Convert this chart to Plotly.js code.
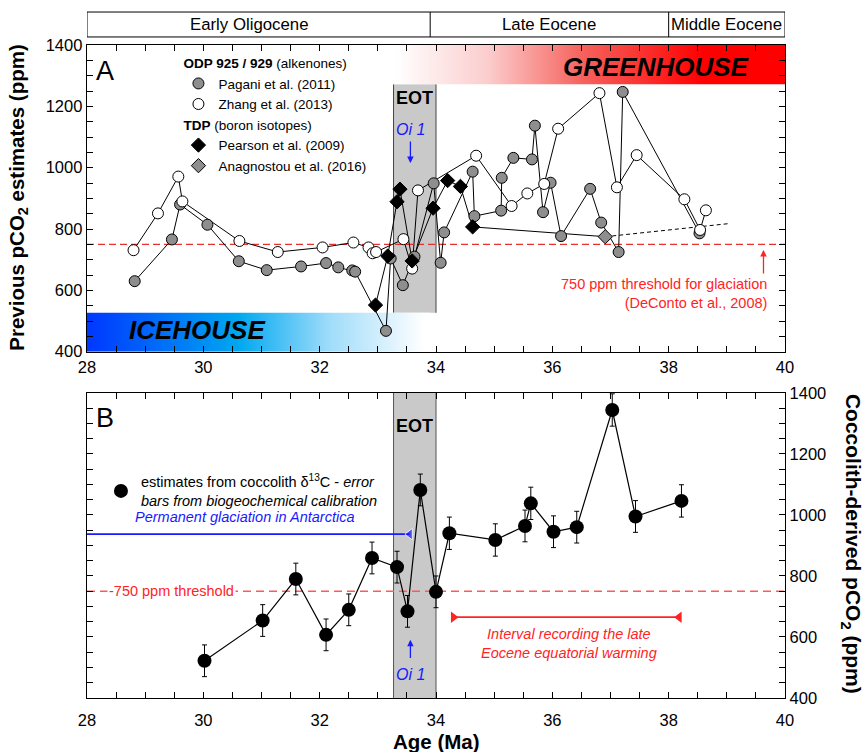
<!DOCTYPE html>
<html><head><meta charset="utf-8">
<script src="https://cdn.plot.ly/plotly-3.0.1.min.js"></script>
<style>html,body{margin:0;padding:0;background:#fff}</style>
</head><body>
<div id="chart" style="width:866px;height:752px"></div>
<script>
// ---------- Panel A : previous pCO2 estimates ----------
const paganiAge = [28.82, 29.46, 29.60, 30.07, 30.61, 31.09, 31.68, 32.11, 32.32, 32.56, 32.61, 33.14, 33.22, 33.43, 33.63, 33.96, 34.08, 34.14, 34.63, 34.66, 35.12, 35.13, 35.33, 35.65, 35.70, 35.84, 35.97, 36.15, 36.65, 36.84, 37.14, 37.21, 38.53];
const paganiPpm = [630, 766, 880, 814, 695, 666, 678, 689, 675, 665, 661, 468, 704, 617, 710, 949, 690, 789, 987, 842, 860, 967, 1032, 1027, 1137, 855, 951, 777, 931, 821, 725, 1247, 786];

const zhangAge = [28.80, 29.22, 29.57, 29.64, 30.62, 31.28, 32.05, 32.58, 32.84, 32.91, 32.97, 33.44, 33.59, 33.69, 34.69, 35.30, 35.57, 35.86, 36.10, 36.81, 37.11, 37.45, 38.27, 38.54, 38.64];
const zhangPpm = [731, 851, 971, 890, 761, 725, 740, 756, 740, 721, 725, 767, 671, 926, 1039, 875, 916, 947, 1127, 1243, 936, 1041, 897, 797, 861];

const pearsonAge = [32.96, 33.17, 33.33, 33.38, 33.59, 33.95, 34.20, 34.42, 34.63];
const pearsonPpm = [552, 712, 889, 930, 696, 868, 958, 939, 807];

const anagAge = [36.91];
const anagPpm = [775];

const tdpTrendAge = [36.91, 39.05];
const tdpTrendPpm = [775, 818];

// ---------- Panel B : coccolith-derived pCO2 ----------
const coccoAge = [30.02, 31.02, 31.59, 32.11, 32.50, 32.90, 33.33, 33.51, 33.73, 34.00, 34.23, 35.02, 35.53, 35.63, 36.02, 36.42, 37.03, 37.43, 38.22];
const coccoPpm = [522, 654, 790, 607, 689, 859, 829, 684, 1082, 748, 940, 918, 964, 1038, 945, 960, 1344, 995, 1046];
const coccoErr = [52, 52, 52, 52, 52, 52, 52, 52, 52, 52, 53, 53, 52, 53, 52, 52, 53, 52, 53];

// ---------- reference intervals ----------
const eotAge = [33.27, 34.0];
const thresholdPpm = 750;
const icehouseAge = [28, 33.9];   const icehousePpm = [400, 527];
const greenhouseAge = [33.2, 40]; const greenhousePpm = [1272, 1400];
const eotPpmA = [527, 1272];
const glaciationAge = [28, 33.55];  const glaciationPpm = 937;
const warmingAge = [34.30, 38.18];  const warmingPpm = 665;
const epochBounds = [28, 33.9, 38.0, 40];
const epochNames = ['Early Oligocene', 'Late Eocene', 'Middle Eocene'];
const oi1Age = 33.56;

const FONT = 'Liberation Sans, Arial, Helvetica, sans-serif';
const RED = '#ff2424';
const BLUE = '#1a1aff';

function box(xr, yr) {
  return {x: [xr[0], xr[1], xr[1], xr[0], xr[0]], y: [yr[0], yr[0], yr[1], yr[1], yr[0]]};
}
const ice = box(icehouseAge, icehousePpm);
const green = box(greenhouseAge, greenhousePpm);

const traces = [
  {x: ice.x, y: ice.y, xaxis: 'x', yaxis: 'y', mode: 'lines', line: {width: 0}, fill: 'toself',
   fillgradient: {type: 'horizontal', start: 28, stop: 33.8,
     colorscale: [[0, 'rgb(0,55,255)'], [0.45, 'rgb(0,168,240)'], [0.72, 'rgb(160,220,250)'], [1, 'rgb(255,255,255)']]},
   hoverinfo: 'skip', showlegend: false},
  {x: green.x, y: green.y, xaxis: 'x', yaxis: 'y', mode: 'lines', line: {width: 0}, fill: 'toself',
   fillgradient: {type: 'horizontal', start: 33.3, stop: 38.6,
     colorscale: [[0, 'rgb(255,255,255)'], [0.3, 'rgb(251,205,205)'], [0.6, 'rgb(246,100,95)'], [1, 'rgb(255,0,0)']]},
   hoverinfo: 'skip', showlegend: false},
  // connecting lines
  {x: paganiAge, y: paganiPpm, mode: 'lines', line: {color: '#000', width: 1}, showlegend: false, hoverinfo: 'skip'},
  {x: zhangAge, y: zhangPpm, mode: 'lines', line: {color: '#000', width: 1}, showlegend: false, hoverinfo: 'skip'},
  {x: pearsonAge.concat(anagAge), y: pearsonPpm.concat(anagPpm), mode: 'lines', line: {color: '#000', width: 1}, showlegend: false, hoverinfo: 'skip'},
  {x: tdpTrendAge, y: tdpTrendPpm, mode: 'lines', line: {color: '#000', width: 1, dash: '4px,3px'}, showlegend: false, hoverinfo: 'skip'},
  // markers (legend)
  {x: paganiAge, y: paganiPpm, mode: 'markers', name: 'Pagani et al. (2011)', legendgroup: 'odp', legendrank: 1,
   legendgrouptitle: {text: '<b>ODP 925 / 929</b> (alkenones)'},
   marker: {symbol: 'circle', size: 11, color: '#8e8e8e', line: {color: '#000', width: 1}}},
  {x: zhangAge, y: zhangPpm, mode: 'markers', name: 'Zhang et al. (2013)', legendgroup: 'odp', legendrank: 2,
   marker: {symbol: 'circle', size: 11, color: '#fff', line: {color: '#000', width: 1}}},
  {x: anagAge, y: anagPpm, mode: 'markers', name: 'Anagnostou et al. (2016)', legendgroup: 'tdp', legendrank: 4,
   marker: {symbol: 'diamond', size: 11, color: '#8e8e8e', line: {color: '#000', width: 1}}},
  {x: pearsonAge, y: pearsonPpm, mode: 'markers', name: 'Pearson et al. (2009)', legendgroup: 'tdp', legendrank: 3,
   legendgrouptitle: {text: '<b>TDP</b> (boron isotopes)'},
   marker: {symbol: 'diamond', size: 11, color: '#000', line: {color: '#000', width: 1}}},
  // Panel B
  {x: glaciationAge, y: glaciationAge.map(() => glaciationPpm), xaxis: 'x2', yaxis: 'y2', mode: 'lines+markers',
   line: {color: BLUE, width: 1.8}, marker: {symbol: ['circle', 'triangle-left'], size: [0, 10], color: BLUE},
   showlegend: false, hoverinfo: 'skip'},
  {x: warmingAge, y: warmingAge.map(() => warmingPpm), xaxis: 'x2', yaxis: 'y2', mode: 'lines+markers',
   line: {color: RED, width: 1.8}, marker: {symbol: ['triangle-right', 'triangle-left'], size: 10, color: RED},
   showlegend: false, hoverinfo: 'skip'},
  {x: coccoAge, y: coccoPpm, xaxis: 'x2', yaxis: 'y2', mode: 'lines', line: {color: '#000', width: 1.2},
   showlegend: false, hoverinfo: 'skip'},
  {x: coccoAge, y: coccoPpm, xaxis: 'x2', yaxis: 'y2', mode: 'markers', legend: 'legend2',
   name: 'estimates from coccolith δ<sup>13</sup>C - <i>error</i><br><i>bars from biogeochemical calibration</i>',
   marker: {symbol: 'circle', size: 14, color: '#000'},
   error_y: {type: 'data', array: coccoErr, visible: true, color: '#000', thickness: 1, width: 2.5}}
];

const axisCommon = {
  showline: true, linecolor: '#000', linewidth: 1.3, mirror: 'ticks',
  ticks: 'inside', ticklen: 6, tickwidth: 1, tickcolor: '#000',
  showgrid: false, zeroline: false,
  tickfont: {family: FONT, size: 16.5, color: '#000'}
};

const layout = {
  width: 866, height: 752,
  margin: {l: 87, r: 81, t: 45, b: 54},
  paper_bgcolor: '#fff', plot_bgcolor: 'rgba(0,0,0,0)',
  font: {family: FONT, color: '#000'},
  xaxis: Object.assign({}, axisCommon, {domain: [0, 1], anchor: 'y', range: [28, 40], tick0: 28, dtick: 2,
    minor: {dtick: 0.5, ticks: 'inside', ticklen: 6, tickcolor: '#000'}}),
  yaxis: Object.assign({}, axisCommon, {domain: [0.5303, 1], anchor: 'x', range: [400, 1400], tick0: 400, dtick: 200,
    minor: {dtick: 50, ticks: 'inside', ticklen: 6, tickcolor: '#000'}}),
  xaxis2: Object.assign({}, axisCommon, {domain: [0, 1], anchor: 'y2', range: [28, 40], tick0: 28, dtick: 2, ticklabelstandoff: 7,
    minor: {dtick: 0.5, ticks: 'inside', ticklen: 6, tickcolor: '#000'}}),
  yaxis2: Object.assign({}, axisCommon, {domain: [0, 0.4672], anchor: 'x2', side: 'right', range: [400, 1400], tick0: 400, dtick: 200,
    minor: {dtick: 50, ticks: 'inside', ticklen: 6, tickcolor: '#000'}}),
  showlegend: true,
  legend: {x: 0.131, y: 0.996, xanchor: 'left', yanchor: 'top', bgcolor: 'rgba(0,0,0,0)',
    traceorder: 'grouped', tracegroupgap: 0, font: {family: FONT, size: 13.5},
    grouptitlefont: {family: FONT, size: 13.5}},
  legend2: {x: 0.02, y: 0.356, xanchor: 'left', yanchor: 'top', bgcolor: 'rgba(0,0,0,0)',
    font: {family: FONT, size: 14.5}},
  shapes: [],
  annotations: []
};

const S = layout.shapes, A = layout.annotations;
// EOT boxes
S.push({type: 'rect', xref: 'x', yref: 'y', x0: eotAge[0], x1: eotAge[1], y0: eotPpmA[0], y1: eotPpmA[1], fillcolor: '#c9c9c9', line: {width: 0}, layer: 'below'});
S.push({type: 'rect', xref: 'x2', yref: 'y2', x0: eotAge[0], x1: eotAge[1], y0: 400, y1: 1400, fillcolor: '#c9c9c9', line: {width: 0}, layer: 'below'});
eotAge.forEach(a => {
  S.push({type: 'line', xref: 'x', yref: 'y', x0: a, x1: a, y0: eotPpmA[0], y1: eotPpmA[1], line: {color: '#444', width: 1}, layer: 'below'});
  S.push({type: 'line', xref: 'x2', yref: 'y2', x0: a, x1: a, y0: 400, y1: 1400, line: {color: '#555', width: 1}, layer: 'below'});
});
// thresholds
S.push({type: 'line', xref: 'x', yref: 'y', x0: 28, x1: 40, y0: thresholdPpm, y1: thresholdPpm, line: {color: '#e8302c', width: 1.2, dash: '7px,4px'}, layer: 'below'});
S.push({type: 'line', xref: 'x2', yref: 'y2', x0: 28, x1: 40, y0: thresholdPpm, y1: thresholdPpm, line: {color: '#ff5a5a', width: 1.5, dash: '8px,5px'}, layer: 'below'});
// epoch bar
S.push({type: 'rect', xref: 'x', yref: 'paper', x0: epochBounds[0], x1: epochBounds[3], y0: 1.0123, y1: 1.0505, line: {color: '#000', width: 1}, fillcolor: 'rgba(0,0,0,0)'});
[epochBounds[1], epochBounds[2]].forEach(b => S.push({type: 'line', xref: 'x', yref: 'paper', x0: b, x1: b, y0: 1.0123, y1: 1.0505, line: {color: '#000', width: 1}}));
const epochLabelShift = [-0.17, 0, 0];
epochNames.forEach((n, i) => A.push({xref: 'x', yref: 'paper', x: (epochBounds[i] + epochBounds[i + 1]) / 2 + epochLabelShift[i], y: 1.0314, text: n, showarrow: false,
  font: {family: FONT, size: 16.8}, xanchor: 'center', yanchor: 'middle'}));

// Panel A text
A.push({xref: 'x', yref: 'y', x: 28.12, y: 1315, text: 'A', showarrow: false, xanchor: 'left', yanchor: 'middle', font: {family: FONT, size: 27}});
A.push({xref: 'x', yref: 'y', x: (eotAge[0] + eotAge[1]) / 2, y: 1227, text: '<b>EOT</b>', showarrow: false, yanchor: 'middle', font: {family: FONT, size: 18}});
A.push({xref: 'x', yref: 'y', x: oi1Age, y: 1123, text: '<i>Oi 1</i>', showarrow: false, yanchor: 'middle', font: {family: FONT, size: 16, color: BLUE}});
A.push({xref: 'x', yref: 'y', axref: 'x', ayref: 'y', x: oi1Age, y: 1015, ax: oi1Age, ay: 1090, text: '', showarrow: true, arrowhead: 2, arrowsize: 1, arrowwidth: 1.3, arrowcolor: BLUE});
A.push({xref: 'x', yref: 'y', x: 39.42, y: 1327, text: '<b><i>GREENHOUSE</i></b>', showarrow: false, xanchor: 'right', yanchor: 'middle', font: {family: FONT, size: 26}});
A.push({xref: 'x', yref: 'y', x: 28.69, y: 471, text: '<b><i>ICEHOUSE</i></b>', showarrow: false, xanchor: 'left', yanchor: 'middle', font: {family: FONT, size: 26}});
A.push({xref: 'x', yref: 'y', x: 39.73, y: 589, text: '750 ppm threshold for glaciation<br>(DeConto et al., 2008)', showarrow: false, xanchor: 'right', yanchor: 'middle', align: 'right', font: {family: FONT, size: 14.5, color: RED}});
A.push({xref: 'x', yref: 'y', axref: 'x', ayref: 'y', x: 39.63, y: 732, ax: 39.63, ay: 650, text: '', showarrow: true, arrowhead: 2, arrowsize: 1, arrowwidth: 1.3, arrowcolor: RED});

// Panel B text
A.push({xref: 'x2', yref: 'y2', x: 28.12, y: 1318, text: 'B', showarrow: false, xanchor: 'left', yanchor: 'middle', font: {family: FONT, size: 27}});
A.push({xref: 'x2', yref: 'y2', x: (eotAge[0] + eotAge[1]) / 2, y: 1290, text: '<b>EOT</b>', showarrow: false, yanchor: 'middle', font: {family: FONT, size: 18}});
A.push({xref: 'x2', yref: 'y2', x: 28.79, y: 993, text: '<i>Permanent glaciation in Antarctica</i>', showarrow: false, xanchor: 'left', yanchor: 'middle', font: {family: FONT, size: 14.5, color: BLUE}});
A.push({xref: 'x2', yref: 'y2', x: 29.45, y: thresholdPpm, text: '-750 ppm threshold', showarrow: false, bgcolor: '#fff', borderpad: 1, yanchor: 'middle', font: {family: FONT, size: 14.5, color: RED}});
A.push({xref: 'x2', yref: 'y2', x: oi1Age, y: 477, text: '<i>Oi 1</i>', showarrow: false, yanchor: 'middle', font: {family: FONT, size: 16, color: BLUE}});
A.push({xref: 'x2', yref: 'y2', axref: 'x2', ayref: 'y2', x: oi1Age, y: 591, ax: oi1Age, ay: 526, text: '', showarrow: true, arrowhead: 2, arrowsize: 1, arrowwidth: 1.3, arrowcolor: BLUE});
A.push({xref: 'x2', yref: 'y2', x: 36.29, y: 578, text: '<i>Interval recording the late<br>Eocene equatorial warming</i>', showarrow: false, yanchor: 'middle', font: {family: FONT, size: 14.5, color: RED}});

// Axis titles
A.push({xref: 'paper', yref: 'paper', x: -0.099, y: 0.766, xanchor: 'center', yanchor: 'middle', text: '<b>Previous pCO<sub>2</sub> estimates (ppm)</b>', textangle: -90, showarrow: false, font: {family: FONT, size: 20.5}});
A.push({xref: 'paper', yref: 'paper', x: 1.096, y: 0.236, xanchor: 'center', yanchor: 'middle', text: '<b>Coccolith-derived pCO<sub>2</sub> (ppm)</b>', textangle: 90, showarrow: false, font: {family: FONT, size: 21}});
A.push({xref: 'paper', yref: 'paper', x: 0.5, y: -0.067, xanchor: 'center', yanchor: 'middle', text: '<b>Age (Ma)</b>', showarrow: false, font: {family: FONT, size: 20.5}});

Plotly.newPlot('chart', traces, layout, {displayModeBar: false, staticPlot: true});
</script>
</body></html>
